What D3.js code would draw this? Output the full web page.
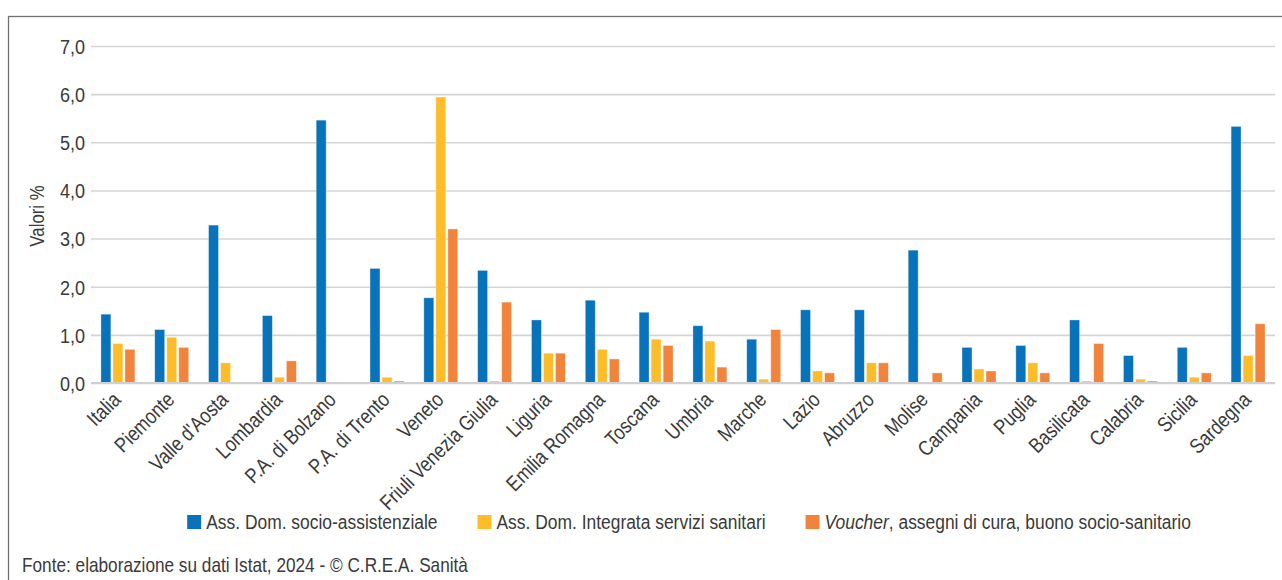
<!DOCTYPE html>
<html>
<head>
<meta charset="utf-8">
<script src="https://cdn.jsdelivr.net/npm/d3@7"></script>
<style>
  html, body { margin: 0; padding: 0; background: #fff; }
  svg { display: block; }
  text { font-family: "Liberation Sans", Arial, sans-serif; fill: #3a3a3a; }
</style>
</head>
<body>
<svg id="chart" width="1282" height="580"></svg>
<script>
// ---- Data ----
const categories = ["Italia", "Piemonte", "Valle d'Aosta", "Lombardia", "P.A. di Bolzano", "P.A. di Trento",
  "Veneto", "Friuli Venezia Giulia", "Liguria", "Emilia Romagna", "Toscana", "Umbria", "Marche", "Lazio",
  "Abruzzo", "Molise", "Campania", "Puglia", "Basilicata", "Calabria", "Sicilia", "Sardegna"];
const seriesNames = ["Ass. Dom. socio-assistenziale", "Ass. Dom. Integrata servizi sanitari", "Voucher, assegni di cura, buono socio-sanitario"];
const socioAssistenziale = [1.43, 1.11, 3.28, 1.40, 5.46, 2.38, 1.77, 2.34, 1.31, 1.72, 1.47, 1.19, 0.91, 1.52, 1.52, 2.76, 0.74, 0.78, 1.31, 0.57, 0.74, 5.33];
const integrataSanitari  = [0.82, 0.95, 0.42, 0.12, 0.00, 0.12, 5.94, 0.04, 0.62, 0.70, 0.91, 0.87, 0.08, 0.25, 0.42, 0.00, 0.29, 0.42, 0.04, 0.08, 0.12, 0.57];
const voucherCura        = [0.70, 0.74, 0.00, 0.46, 0.00, 0.04, 3.20, 1.68, 0.62, 0.50, 0.78, 0.33, 1.11, 0.21, 0.42, 0.21, 0.25, 0.21, 0.82, 0.04, 0.21, 1.23];
const yTicks = [0, 1, 2, 3, 4, 5, 6, 7];
const yTitle = "Valori %";
const sourceNote = "Fonte: elaborazione su dati Istat, 2024 - © C.R.E.A. Sanità";

const seriesValues = [socioAssistenziale, integrataSanitari, voucherCura];
const colors = ["#0872BA", "#FDBD2A", "#F1843D"];

// ---- Layout ----
const svg = d3.select("#chart");
const plot = { left: 91, right: 1275, top: 46, bottom: 383 };
const FONT = 21;
const NARROW = "scale(0.82,1)";
const NARROW2 = "scale(0.84,1)";
const NARROW_LEG = "scale(0.83,1)";

// outer frame
svg.append("rect")
  .attr("x", 8.5).attr("y", 16.5)
  .attr("width", 1300).attr("height", 600)
  .attr("fill", "none").attr("stroke", "#707070").attr("stroke-width", 1.3);

const x0 = d3.scaleBand().domain(categories).range([plot.left, plot.right]).paddingInner(0).paddingOuter(0);
const x1 = d3.scaleBand().domain(d3.range(seriesNames.length)).range([-17, 17]).paddingInner(0.17);
const y = d3.scaleLinear().domain([0, 7]).range([plot.bottom, plot.top]);

const locale = d3.formatLocale({ decimal: ",", thousands: ".", grouping: [3], currency: ["€", ""] });
const fmt = locale.format(".1f");

// gridlines + y labels
const yAxis = svg.append("g")
  .attr("transform", `translate(${plot.left},0)`)
  .call(d3.axisLeft(y).tickValues(yTicks).tickFormat(fmt).tickSize(-(plot.right - plot.left)).tickPadding(6));
yAxis.select(".domain").remove();
yAxis.selectAll(".tick line").attr("stroke", "#d4d4d4").attr("stroke-width", 1.6);
yAxis.selectAll(".tick text")
  .attr("font-size", FONT)
  .attr("font-family", null)
  .attr("fill", "#3a3a3a")
  .attr("x", -7)
  .attr("dy", "0.35em")
  .attr("transform", "scale(0.86,1)");

// bars
const groups = svg.append("g").selectAll("g")
  .data(categories)
  .join("g")
  .attr("transform", d => `translate(${x0(d) + x0.bandwidth() / 2},0)`);

groups.selectAll("rect")
  .data((d, i) => seriesValues.map((vals, s) => ({ s, v: vals[i] })).filter(o => o.v > 0))
  .join("rect")
  .attr("x", d => x1(d.s))
  .attr("width", x1.bandwidth())
  .attr("y", d => y(d.v))
  .attr("height", d => y(0) - y(d.v))
  .attr("fill", d => colors[d.s])
  .attr("stroke", "#ffffff")
  .attr("stroke-opacity", 0.45)
  .attr("stroke-width", 0.8);

// baseline
svg.append("line")
  .attr("x1", plot.left).attr("x2", plot.right)
  .attr("y1", y(0)).attr("y2", y(0))
  .attr("stroke", "#d0d0d0").attr("stroke-width", 2);

// category labels
svg.append("g").selectAll("text")
  .data(categories)
  .join("text")
  .attr("transform", d => `translate(${x0(d) + x0.bandwidth() / 2 + 4},${401}) rotate(-45) ${NARROW2}`)
  .attr("text-anchor", "end")
  .attr("font-size", FONT)
  .text(d => d);

// y title
svg.append("text")
  .attr("transform", `translate(44,216) rotate(-90) ${NARROW2}`)
  .attr("text-anchor", "middle")
  .attr("font-size", 20)
  .text(yTitle);

// legend
const legend = svg.append("g");
const items = legend.selectAll("g").data(seriesNames).join("g");
items.append("rect")
  .attr("width", 14).attr("height", 14)
  .attr("y", 515)
  .attr("fill", (d, i) => colors[i]);
items.each(function (d, i) {
  const t = d3.select(this).append("text")
    .attr("transform", `translate(19,529) ${NARROW_LEG}`)
    .attr("font-size", FONT);
  if (i === 2) {
    const parts = d.split(",");
    t.append("tspan").attr("font-style", "italic").text(parts[0]);
    t.append("tspan").text("," + parts.slice(1).join(","));
  } else {
    t.text(d);
  }
});
const widths = [];
items.each(function () { widths.push(this.getBBox().width); });
const gap = 40;
const total = d3.sum(widths) + gap * (widths.length - 1);
let cx = 689 - total / 2;
items.each(function (d, i) {
  d3.select(this).attr("transform", `translate(${cx},0)`);
  cx += widths[i] + gap;
});

// source note
svg.append("text")
  .attr("transform", `translate(22,572) ${NARROW}`)
  .attr("font-size", FONT)
  .text(sourceNote);
</script>
</body>
</html>
